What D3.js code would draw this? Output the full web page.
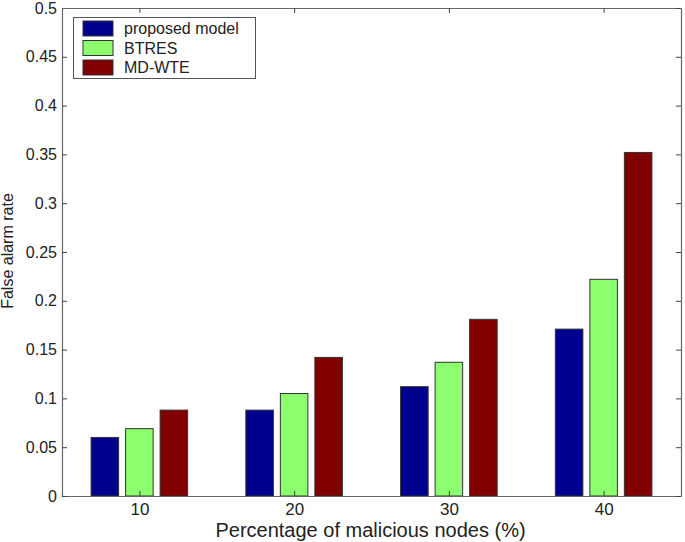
<!DOCTYPE html>
<html><head><meta charset="utf-8">
<script src="https://cdn.jsdelivr.net/npm/d3@7"></script>
<style>body{margin:0;background:#fff}svg{display:block}text{font-family:"Liberation Sans",Arial,sans-serif;fill:#222}</style>
</head><body>
<svg id="c" width="685" height="542"></svg>
<script>
const categories = [10, 20, 30, 40];
const seriesNames = ["proposed model", "BTRES", "MD-WTE"];
const proposed = [0.060, 0.088, 0.112, 0.171];
const btres = [0.069, 0.105, 0.137, 0.222];
const mdwte = [0.088, 0.142, 0.181, 0.352];
const yTicks = [0, 0.05, 0.1, 0.15, 0.2, 0.25, 0.3, 0.35, 0.4, 0.45, 0.5];
const colors = ["#00008f", "#8cff6e", "#800000"];
const series = [proposed, btres, mdwte];

const svg = d3.select("#c");
const L = 62, R = 681, T = 8, B = 496;
const x = d3.scaleLinear().domain([5, 45]).range([L, R]);
const y = d3.scaleLinear().domain([0, 0.5]).range([B, T]);
const off = 2.23, bw = 1.78;

// bars
series.forEach((vals, si) => {
  svg.append("g").selectAll("rect").data(vals).join("rect")
    .attr("x", (d, i) => x(categories[i] + (si - 1) * off - bw / 2))
    .attr("width", x(bw) - x(0))
    .attr("y", d => y(d))
    .attr("height", d => y(0) - y(d))
    .attr("fill", colors[si])
    .attr("stroke", "#333").attr("stroke-width", 1);
});

// axes
const axCol = "#666";
const gx = svg.append("g").attr("transform", `translate(0,${B})`)
  .call(d3.axisBottom(x).tickValues(categories).tickSizeInner(-5).tickSizeOuter(0).tickPadding(7));
const gy = svg.append("g").attr("transform", `translate(${L},0)`)
  .call(d3.axisLeft(y).tickValues(yTicks).tickFormat(d => d3.format("~g")(d)).tickSizeInner(-5).tickSizeOuter(0).tickPadding(5));
const gt = svg.append("g").attr("transform", `translate(0,${T})`)
  .call(d3.axisTop(x).tickValues(categories).tickSizeInner(-5).tickSizeOuter(0).tickFormat(""));
const gr = svg.append("g").attr("transform", `translate(${R},0)`)
  .call(d3.axisRight(y).tickValues(yTicks).tickSizeInner(-5).tickSizeOuter(0).tickFormat(""));
[gx, gy, gt, gr].forEach(g => {
  g.select(".domain").attr("stroke", axCol).attr("stroke-width", 1.2);
  g.selectAll(".tick line").attr("stroke", "#444");
  g.selectAll(".tick text").style("font-size", "16px").attr("fill", "#222")
    .style("font-family", "'Liberation Sans', Arial, sans-serif");
});
gx.selectAll(".tick text").style("font-size", "17px");

// axis titles
svg.append("text").attr("x", (L + R) / 2 - 1).attr("y", 537).attr("text-anchor", "middle")
  .style("font-size", "20px").text("Percentage of malicious nodes (%)");
svg.append("text").attr("transform", "translate(13,251) rotate(-90)").attr("text-anchor", "middle")
  .style("font-size", "16px").text("False alarm rate");

// legend
const lg = svg.append("g");
lg.append("rect").attr("x", 73.5).attr("y", 17.5).attr("width", 182).attr("height", 61)
  .attr("fill", "#fff").attr("stroke", "#555").attr("stroke-width", 1);
seriesNames.forEach((n, i) => {
  const cy = 28.5 + i * 19.5;
  lg.append("rect").attr("x", 83).attr("y", cy - 7.5).attr("width", 30).attr("height", 15)
    .attr("fill", colors[i]).attr("stroke", "#333");
  lg.append("text").attr("x", 124).attr("y", cy + 5.5).style("font-size", "16px").text(n);
});
</script>
</body></html>
